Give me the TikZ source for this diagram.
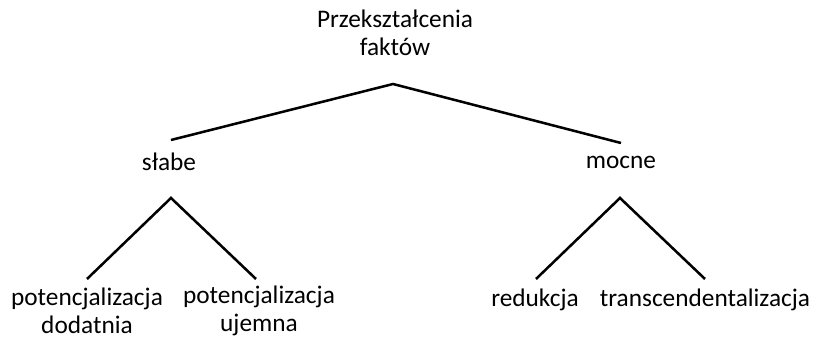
\documentclass[tikz,border=0pt]{standalone}
\usepackage{fontspec}
\setmainfont{Carlito}
\begin{document}
\begin{tikzpicture}[x=0.025cm,y=-0.025cm]
\tikzset{lbl/.style={align=center,font=\fontsize{18}{20}\selectfont,inner sep=0pt},
branch/.style={line width=1.8pt}}
\useasboundingbox (0,0) rectangle (818,340);
\node[lbl] (root) at (395,33) {Przekształcenia\\faktów};
\node[lbl] (slabe) at (169,162) {słabe};
\node[lbl] (mocne) at (621,162) {mocne};
\node[lbl] (dodatnia) at (87,311) {potencjalizacja\\dodatnia};
\node[lbl] (ujemna) at (259,311) {potencjalizacja\\ujemna};
\node[lbl] (redukcja) at (535,300) {redukcja};
\node[lbl] (transc) at (705,300) {transcendentalizacja};
\coordinate (rootfoot) at (393,84);
\coordinate (slabetop) at (171,140);
\coordinate (mocnetop) at (621,143);
\coordinate (slabefoot) at (171,198);
\coordinate (mocnefoot) at (620,198);
\coordinate (dodatniatop) at (87,279);
\coordinate (ujemnatop) at (256,279);
\coordinate (redukcjatop) at (536,279);
\coordinate (transctop) at (705,279);
\draw[branch] (slabetop) -- (rootfoot) -- (mocnetop);
\draw[branch] (dodatniatop) -- (slabefoot) -- (ujemnatop);
\draw[branch] (redukcjatop) -- (mocnefoot) -- (transctop);
\end{tikzpicture}
\end{document}
